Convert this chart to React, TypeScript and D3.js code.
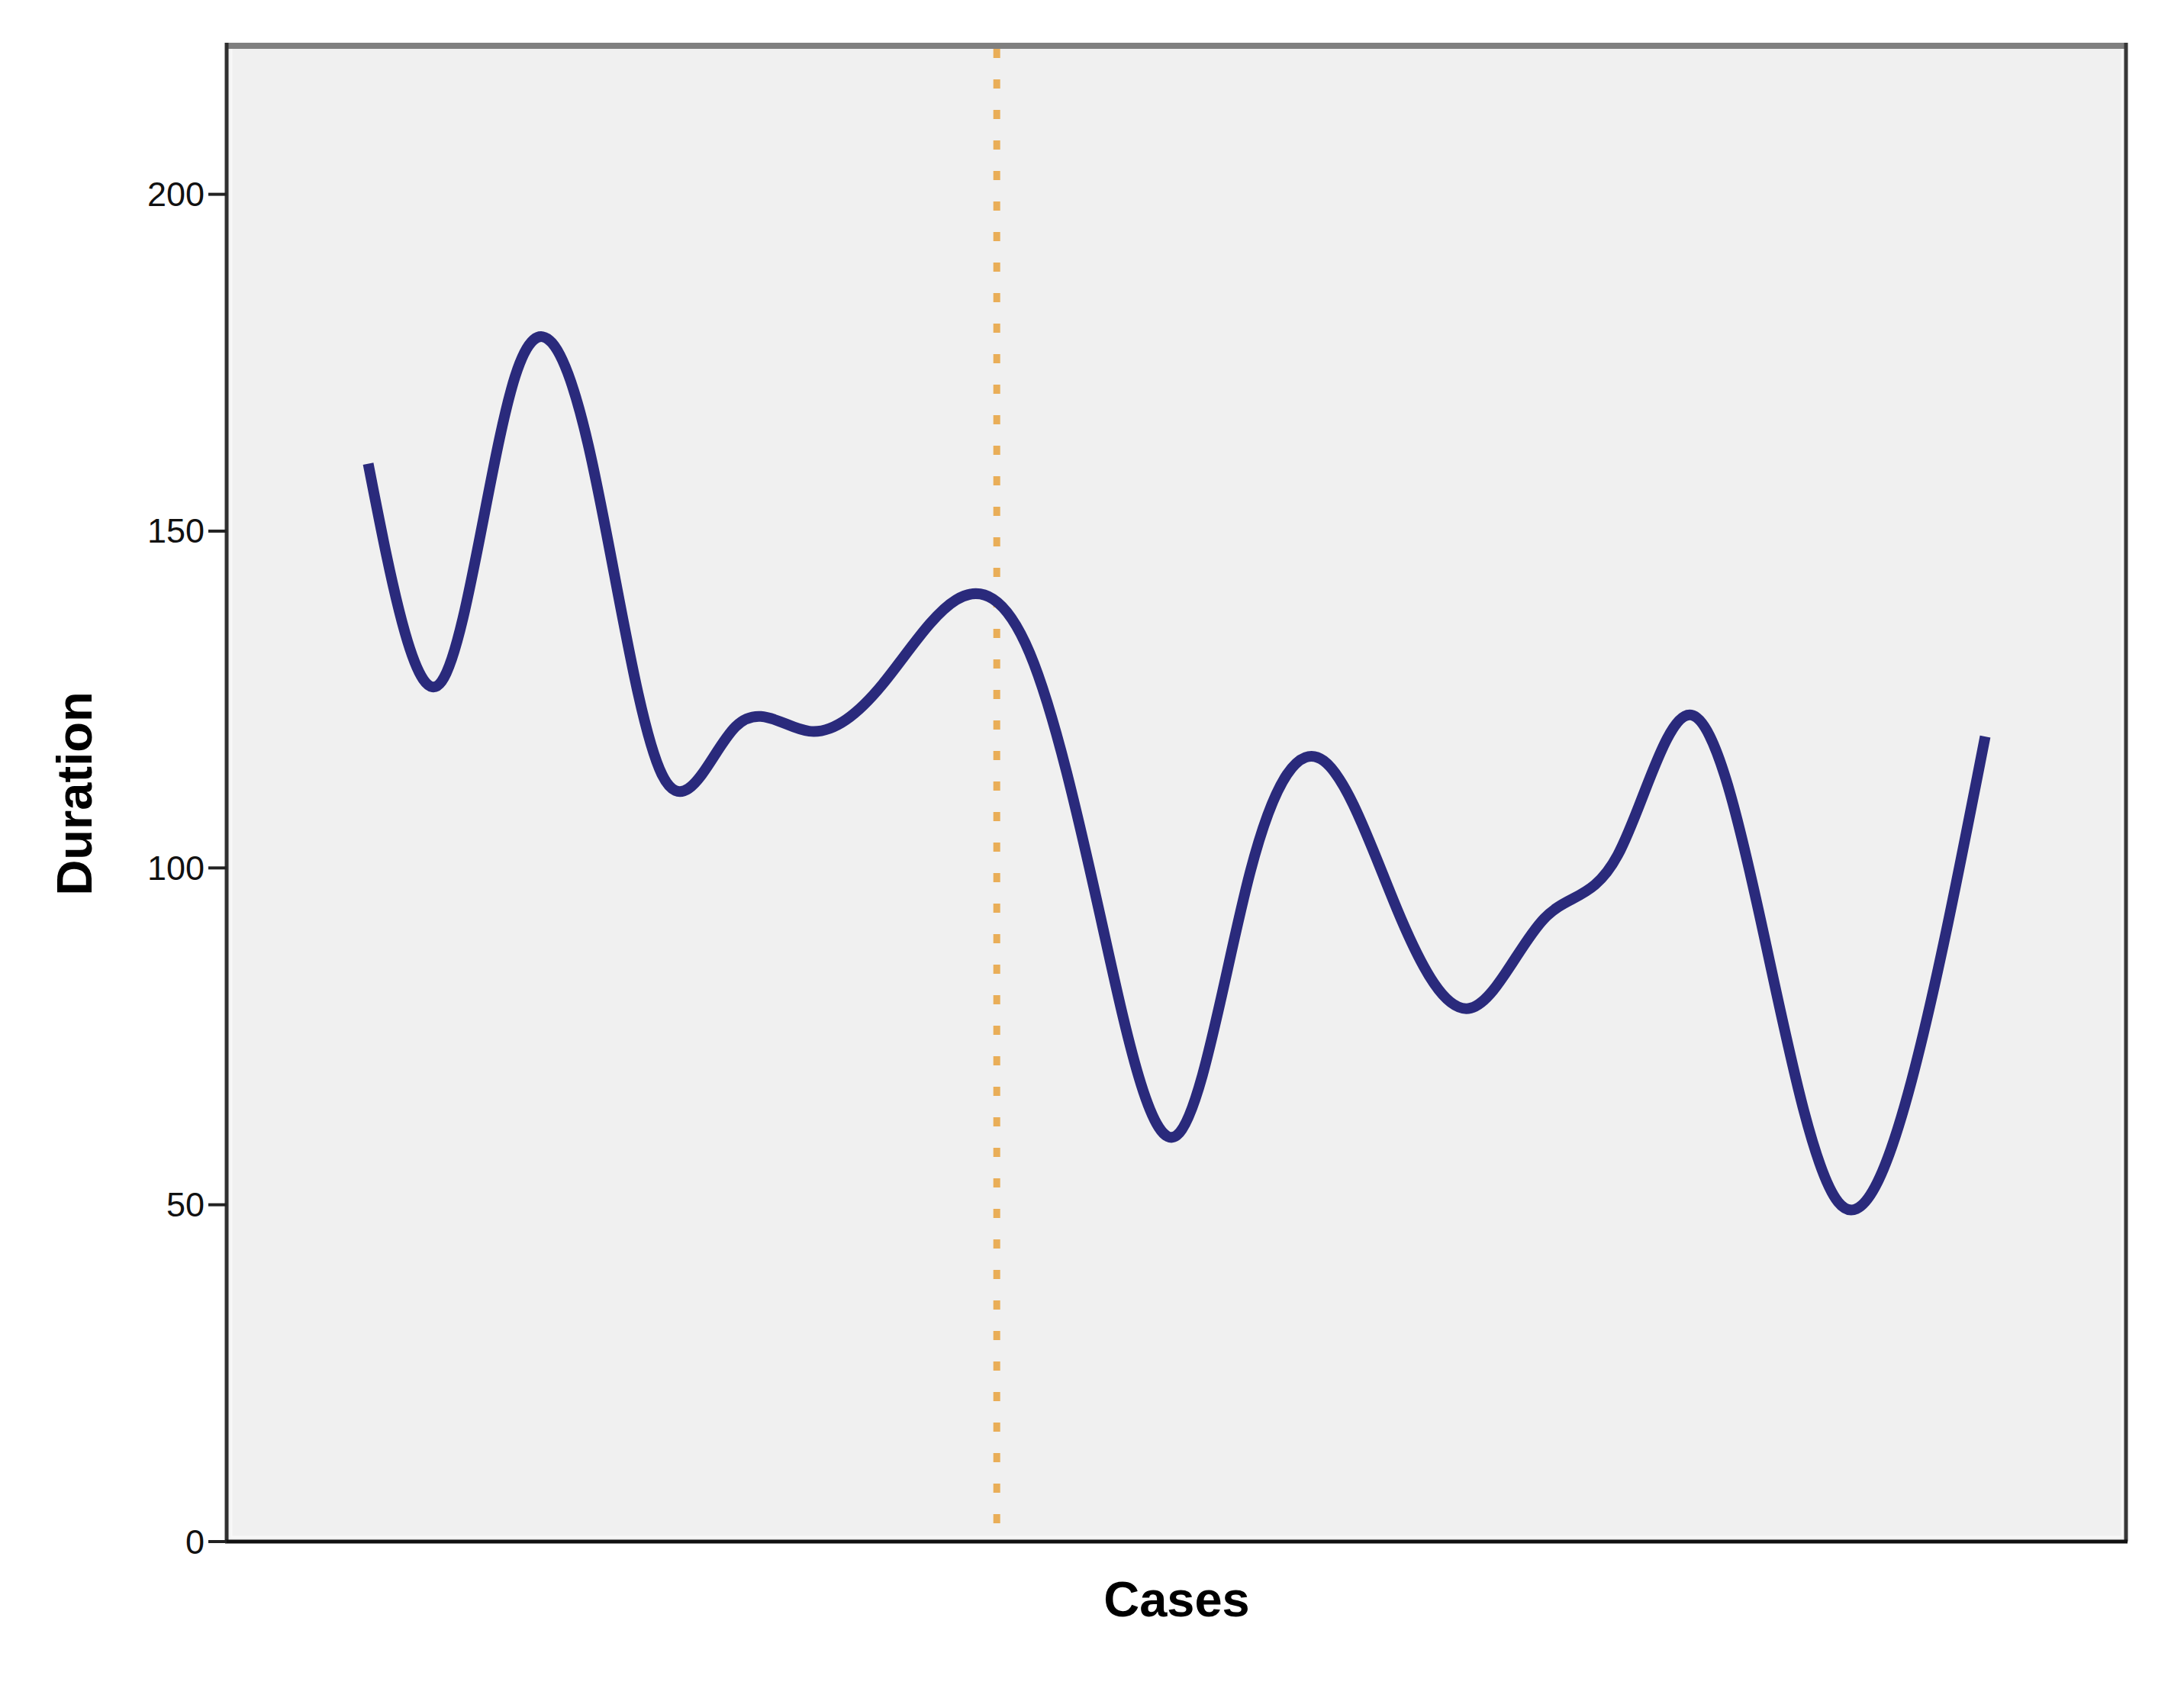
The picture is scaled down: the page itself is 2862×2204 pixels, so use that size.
import React from "react";
import * as d3 from "d3";

// ---- data ----
const cases = [1, 2, 3, 4, 5, 6, 7, 8, 9, 10, 11, 12, 13, 14, 15, 16, 17, 18, 19, 20, 21, 22, 23];
const duration = [160.0, 127.7, 173.0, 162.5, 113.8, 121.0, 120.3, 127.3, 139.8, 131.9, 90.9, 60.3, 99.4, 115.9, 93.8, 79.2, 92.5, 101.9, 122.7, 89.5, 50.4, 68.5, 119.5];
const yTicks = [0, 50, 100, 150, 200];
const phaseLineCase = [9.5];
const xTitle = "Cases";
const yTitle = "Duration";

const W = 2862;
const H = 2204;
const plot = { left: 297, right: 2787, top: 56, bottom: 2020 };

export default function App() {
  const x = d3
    .scaleLinear()
    .domain([1 - 1.926, cases.length + 1.926])
    .range([plot.left, plot.right]);
  const y = d3.scaleLinear().domain([0, 222.5]).range([plot.bottom, plot.top]);

  const line = d3
    .line<number>()
    .x((_, i) => x(cases[i]))
    .y((d) => y(d))
    .curve(d3.curveNatural);

  return (
    <svg
      width={W}
      height={H}
      style={{ position: "absolute", left: 0, top: 0, background: "#ffffff" }}
    >
      <rect x={0} y={0} width={W} height={H} fill="#ffffff" />
      {/* plot background */}
      <rect
        x={plot.left}
        y={plot.top}
        width={plot.right - plot.left}
        height={plot.bottom - plot.top}
        fill="#F0F0F0"
      />
      <rect
        x={plot.left + 6}
        y={plot.top + 6}
        width={plot.right - plot.left - 12}
        height={plot.bottom - plot.top - 12}
        fill="none"
        stroke="#F8F8F8"
        strokeWidth={3}
      />
      {/* phase reference line */}
      {phaseLineCase.map((c) => (
        <line
          key={c}
          x1={x(c) + 5}
          x2={x(c) + 5}
          y1={plot.top + 8}
          y2={plot.bottom}
          stroke="#E9AE58"
          strokeWidth={9}
          strokeDasharray="12 28"
        />
      ))}
      {/* data line */}
      <path
        d={line(duration) || ""}
        fill="none"
        stroke="#2A2A7C"
        strokeWidth={14}
        strokeLinejoin="round"
      />
      {/* frame */}
      <line x1={plot.left} x2={plot.right} y1={plot.top + 4} y2={plot.top + 4} stroke="#7F7F7F" strokeWidth={8} />
      <line x1={plot.right - 1} x2={plot.right - 1} y1={plot.top} y2={plot.bottom} stroke="#383838" strokeWidth={5} />
      <line x1={plot.left} x2={plot.left} y1={plot.top} y2={plot.bottom + 2} stroke="#303030" strokeWidth={5} />
      <line x1={plot.left - 2} x2={plot.right + 1} y1={plot.bottom} y2={plot.bottom} stroke="#111111" strokeWidth={5} />
      {/* y ticks */}
      {yTicks.map((t) => (
        <g key={t}>
          <line x1={plot.left - 24} x2={plot.left} y1={y(t)} y2={y(t)} stroke="#222222" strokeWidth={4} />
          <text
            x={plot.left - 29}
            y={y(t)}
            textAnchor="end"
            dominantBaseline="central"
            fontFamily="Liberation Sans"
            fontSize={45}
            fill="#111111"
          >
            {t}
          </text>
        </g>
      ))}
      {/* axis titles */}
      <text
        x={(plot.left + plot.right) / 2}
        y={2118}
        textAnchor="middle"
        fontFamily="Liberation Sans"
        fontWeight="bold"
        fontSize={65}
        fill="#000000"
      >
        {xTitle}
      </text>
      <text
        transform={`translate(120, ${(plot.top + plot.bottom) / 2 + 2}) rotate(-90)`}
        textAnchor="middle"
        fontFamily="Liberation Sans"
        fontWeight="bold"
        fontSize={65}
        fill="#000000"
      >
        {yTitle}
      </text>
    </svg>
  );
}
